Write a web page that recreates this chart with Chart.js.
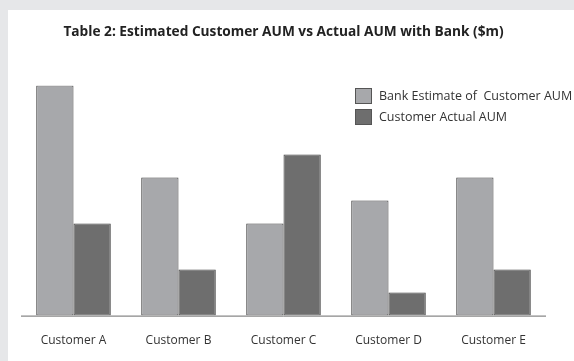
<!DOCTYPE HTML>
<html lang="en">
<head>
  <meta http-equiv="content-type" content="text/html; charset=UTF-8">
  <script src="https://cdn.jsdelivr.net/npm/chart.js"></script>
  <style>
    html, body { margin:0; padding:0; background:#e6e7e9; }
    #panel { position:absolute; left:8px; top:10px; width:566px; height:351px; background:#ffffff; }
    #wrap { position:absolute; left:0; top:0; width:574px; height:361px; }
  </style>
</head>
<body>
  <div id="panel"></div>
  <div id="wrap"><canvas id="chart"></canvas></div>

  <script>
    // Data //
    const customers = ['Customer A', 'Customer B', 'Customer C', 'Customer D', 'Customer E'];
    const bankEstimate = [10, 6, 4, 5, 6];
    const actualAUM = [4, 2, 7, 1, 2];
    const seriesNames = ['Bank Estimate of  Customer AUM', 'Customer Actual AUM'];
    const colors = ['#a7a8ab', '#6e6e6e'];

    const font = '"Open Sans", "Noto Sans", sans-serif';

    // legend + baseline drawn by hand
    const decor = {
        id: 'decor',
        afterDatasetsDraw(chart) {
            const ctx = chart.ctx;
            const area = chart.chartArea;
            ctx.save();
            ctx.strokeStyle = '#6a6a6a';
            ctx.lineWidth = 1;
            ctx.beginPath();
            ctx.moveTo(area.left, area.bottom + 0.5);
            ctx.lineTo(area.right, area.bottom + 0.5);
            ctx.stroke();

            ctx.font = '12.5px ' + font;
            ctx.textBaseline = 'middle';
            chart.data.datasets.forEach((ds, i) => {
                const y = 88 + i * 21;
                ctx.fillStyle = ds.backgroundColor;
                ctx.strokeStyle = '#555555';
                ctx.fillRect(355, y, 17, 16);
                ctx.strokeRect(355.5, y + 0.5, 16, 15);
                ctx.fillStyle = '#333333';
                ctx.fillText(ds.label, 379, y + 8);
            });
            ctx.restore();
        }
    };

    new Chart(document.getElementById('chart'), {
        type: 'bar',
        data: {
            labels: customers,
            datasets: [
                { label: seriesNames[0], data: bankEstimate, backgroundColor: colors[0],
                  borderColor: '#3c3c3c', borderWidth: 1, borderSkipped: false },
                { label: seriesNames[1], data: actualAUM, backgroundColor: colors[1],
                  borderColor: '#3c3c3c', borderWidth: 1, borderSkipped: false },
            ],
        },
        options: {
            responsive: true,
            maintainAspectRatio: false,
            animation: false,
            categoryPercentage: 0.71,
            barPercentage: 1.0,
            layout: { padding: { left: 21, right: 28, top: 24, bottom: 3 } },
            plugins: {
                legend: { display: false },
                tooltip: { enabled: false },
                title: {
                    display: true,
                    text: 'Table 2: Estimated Customer AUM vs Actual AUM with Bank ($m)',
                    color: '#222222',
                    font: { family: font, size: 13.7, weight: 'bold' },
                    padding: { top: 0, bottom: 45 },
                },
            },
            scales: {
                x: {
                    grid: { display: false },
                    border: { display: false },
                    ticks: { color: '#333333', font: { family: font, size: 12 }, padding: 10 },
                },
                y: {
                    display: false,
                    min: 0,
                    max: 10,
                },
            },
        },
        plugins: [decor],
    });
  </script>
</body>
</html>
